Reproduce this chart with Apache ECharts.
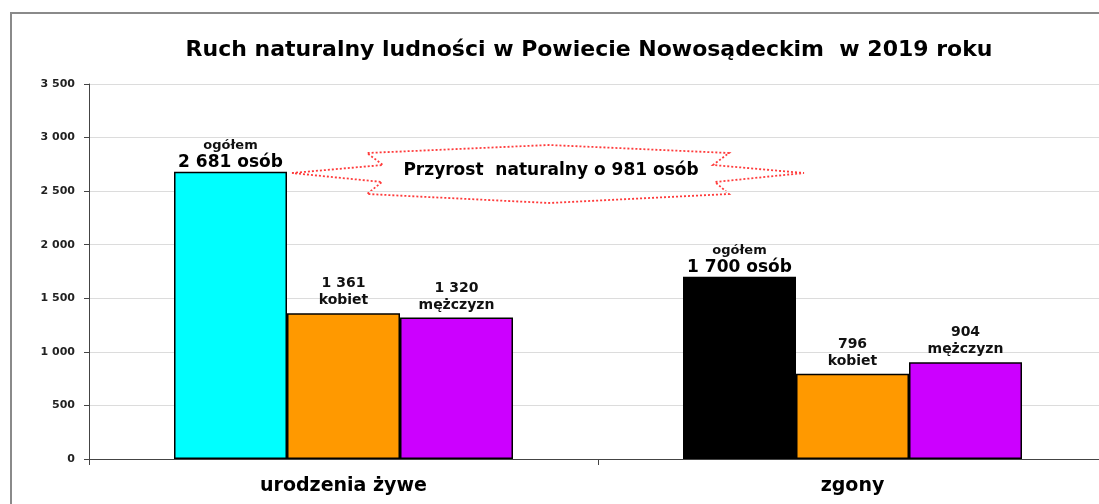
<!DOCTYPE html>
<html>
<head>
<meta charset="utf-8">
<script src="https://cdn.jsdelivr.net/npm/echarts@6/dist/echarts.min.js"></script>
<style>
  html, body { margin: 0; padding: 0; background: #fff; overflow: hidden; }
  /* wykres jest przycięty z prawej strony, tak jak w oryginale */
  #chart { width: 1107px; height: 504px; }
</style>
</head>
<body>
<div id="chart"></div>
<script>
// dane z wykresu
var categories = ['urodzenia żywe', 'zgony'];
var ogolem = [2681, 1700];
var kobiety = [1361, 796];
var mezczyzni = [1320, 904];
var ogolemColors = ['#00ffff', '#000000'];
var yMin = 0, yMax = 3500, yStep = 500;
var titleText = 'Ruch naturalny ludności w Powiecie Nowosądeckim  w 2019 roku';
var przyrostText = 'Przyrost  naturalny o 981 osób';

var FONT = '"DejaVu Sans", Arial, sans-serif';

function fmt(v) {
  return String(v).replace(/\B(?=(\d{3})+(?!\d))/g, ' ');
}

var myChart = echarts.init(document.getElementById('chart'));

myChart.setOption({
  animation: false,
  title: {
    text: titleText,
    left: 584,
    top: 34,
    textAlign: 'center',
    textStyle: {
      fontFamily: FONT,
      fontSize: 22,
      fontWeight: 'bold',
      color: '#000'
    }
  },
  grid: {
    left: 89,
    top: 84,
    right: 0,
    bottom: 45
  },
  xAxis: {
    type: 'category',
    data: categories,
    axisLine: { lineStyle: { color: '#444', width: 1 } },
    axisTick: { show: true, length: 6, lineStyle: { color: '#444' } },
    axisLabel: {
      margin: 18,
      fontFamily: FONT,
      fontSize: 19,
      fontWeight: 'bold',
      color: '#000'
    }
  },
  yAxis: {
    type: 'value',
    min: yMin,
    max: yMax,
    interval: yStep,
    axisLine: { show: true, lineStyle: { color: '#444', width: 1 } },
    axisTick: { show: true, length: 5, lineStyle: { color: '#444' } },
    splitLine: { lineStyle: { color: '#dcdcdc', width: 1 } },
    axisLabel: {
      margin: 14,
      fontFamily: FONT,
      fontSize: 11,
      fontWeight: 'bold',
      color: '#222',
      formatter: function (v) { return fmt(v); }
    }
  },
  series: [
    {
      name: 'ogółem',
      type: 'bar',
      barWidth: 113,
      barGap: '0%',
      data: ogolem.map(function (v, i) {
        return { value: v, itemStyle: { color: ogolemColors[i] } };
      }),
      itemStyle: { borderColor: '#000', borderWidth: 1.5 },
      label: {
        show: true,
        position: 'top',
        distance: 0,
        formatter: function (p) {
          return '{s|ogółem}\n{b|' + fmt(p.value) + ' osób}';
        },
        rich: {
          s: { fontFamily: FONT, fontSize: 13, fontWeight: 'bold', color: '#111', lineHeight: 17 },
          b: { fontFamily: FONT, fontSize: 17, fontWeight: 'bold', color: '#000', lineHeight: 18 }
        }
      }
    },
    {
      name: 'kobiety',
      type: 'bar',
      barWidth: 113,
      barGap: '0%',
      data: kobiety,
      itemStyle: { color: '#ff9900', borderColor: '#000', borderWidth: 1.5 },
      label: {
        show: true,
        position: 'top',
        distance: 4,
        fontFamily: FONT,
        fontSize: 14,
        fontWeight: 'bold',
        color: '#111',
        lineHeight: 17,
        formatter: function (p) { return fmt(p.value) + '\nkobiet'; }
      }
    },
    {
      name: 'mężczyźni',
      type: 'bar',
      barWidth: 113,
      barGap: '0%',
      data: mezczyzni,
      itemStyle: { color: '#cc00ff', borderColor: '#000', borderWidth: 1.5 },
      label: {
        show: true,
        position: 'top',
        distance: 4,
        fontFamily: FONT,
        fontSize: 14,
        fontWeight: 'bold',
        color: '#111',
        lineHeight: 17,
        formatter: function (p) { return fmt(p.value) + '\nmężczyzn'; }
      }
    }
  ],
  graphic: [
    // ramka wykresu
    {
      type: 'rect',
      shape: { x: 11, y: 13, width: 1200, height: 600 },
      style: { fill: 'none', stroke: '#8a8a8a', lineWidth: 2 },
      silent: true
    },
    // gwiazda z przyrostem
    {
      type: 'polygon',
      shape: {
        points: [
          [292, 173], [383, 165], [367, 153], [549, 145], [729, 153],
          [713, 165], [804, 173], [715, 182], [729, 194], [549, 203],
          [367, 194], [382, 182]
        ]
      },
      style: { fill: 'none', stroke: '#ff3b3b', lineWidth: 1.8, lineDash: [2, 2] },
      silent: true
    },
    {
      type: 'text',
      x: 551,
      y: 171,
      style: {
        text: przyrostText,
        fontFamily: FONT,
        fontSize: 17,
        fontWeight: 'bold',
        fill: '#000',
        align: 'center',
        verticalAlign: 'middle'
      },
      silent: true
    }
  ]
});
</script>
</body>
</html>
